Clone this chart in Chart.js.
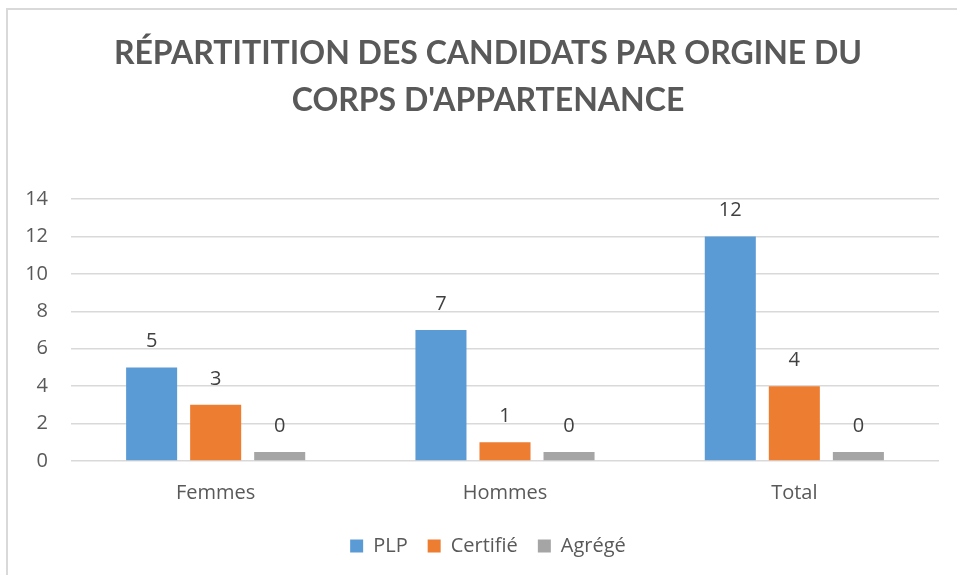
<!DOCTYPE html>
<html>
<head>
<meta charset="utf-8">
<script src="https://cdn.jsdelivr.net/npm/chart.js@4.4.1/dist/chart.umd.min.js"></script>
<style>
html,body{margin:0;padding:0;background:#fff;overflow:hidden;}
#wrap{position:absolute;left:0;top:0;width:957px;height:575px;overflow:hidden;}
#frame{position:absolute;left:6px;top:8px;width:990px;height:580px;border-left:2px solid #d9d9d9;border-top:2px solid #d9d9d9;pointer-events:none;}
canvas{position:absolute;left:0;top:0;}
</style>
</head>
<body>
<div id="wrap">
<canvas id="c" width="986" height="575"></canvas>
<div id="frame"></div>
</div>
<script>
const categories = ['Femmes', 'Hommes', 'Total'];
const plpValues = [5, 7, 12];
const certifieValues = [3, 1, 4];
const agregeValues = [0.48, 0.48, 0.48];
const seriesNames = ['PLP', 'Certifié', 'Agrégé'];
const titleLines = ["RÉPARTITITION DES CANDIDATS PAR ORGINE DU", "CORPS D'APPARTENANCE"];
const yTickMax = 14;
const yTickStep = 2;

const TFONT = 'Lato, "Open Sans", sans-serif';
const FONT = '"Open Sans", Lato, sans-serif';

const dataLabels = {
  id: 'dataLabels',
  afterDatasetsDraw(chart) {
    const ctx = chart.ctx;
    ctx.save();
    ctx.font = '20px ' + FONT;
    ctx.fillStyle = '#404040';
    ctx.textAlign = 'center';
    ctx.textBaseline = 'middle';
    chart.data.datasets.forEach((ds, i) => {
      const meta = chart.getDatasetMeta(i);
      meta.data.forEach((el, j) => {
        ctx.fillText(String(Math.round(ds.data[j])), el.x, el.y - 26);
      });
    });
    ctx.restore();
  }
};

new Chart(document.getElementById('c'), {
  type: 'bar',
  data: {
    labels: categories,
    datasets: [
      { label: seriesNames[0], data: plpValues, backgroundColor: '#5b9bd5' },
      { label: seriesNames[1], data: certifieValues, backgroundColor: '#ed7d31' },
      { label: seriesNames[2], data: agregeValues, backgroundColor: '#a5a5a5' }
    ]
  },
  options: {
    responsive: false,
    animation: false,
    devicePixelRatio: 1,
    layout: { padding: { left: 8, right: 18, top: 9, bottom: 9 } },
    datasets: { bar: { categoryPercentage: 0.664, barPercentage: 0.797 } },
    plugins: {
      title: {
        display: true,
        text: titleLines,
        color: '#595959',
        font: { family: TFONT, size: 32, weight: 'bold', lineHeight: 1.47 },
        padding: { top: 21, bottom: 75 }
      },
      legend: {
        position: 'bottom',
        labels: {
          color: '#595959',
          font: { family: FONT, size: 20 },
          boxWidth: 13, boxHeight: 13,
          padding: 20
        }
      },
      tooltip: { enabled: false }
    },
    scales: {
      x: {
        grid: { display: false, drawTicks: false },
        border: { display: false },
        ticks: { color: '#595959', font: { family: FONT, size: 20 }, padding: 20 },
        afterFit(s) { s.height = 55; }
      },
      y: {
        min: 0, max: yTickMax,
        grid: { color: '#d9d9d9', lineWidth: 1.5, drawTicks: false },
        border: { display: false },
        ticks: { stepSize: yTickStep, color: '#595959', font: { family: FONT, size: 20 }, padding: 23 },
        afterFit(s) { s.width = 63; }
      },
      yRightSpace: {
        type: 'linear',
        position: 'right',
        grid: { display: false, drawTicks: false },
        border: { display: false },
        ticks: { display: false },
        afterFit(s) { s.width = 29; }
      }
    }
  },
  plugins: [dataLabels]
});
</script>
</body>
</html>
